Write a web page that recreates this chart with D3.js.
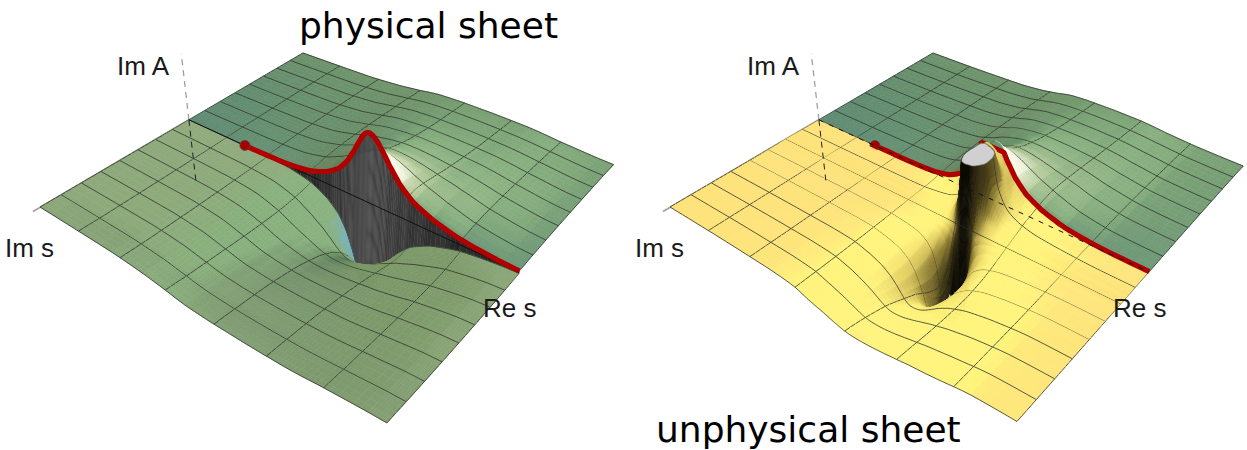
<!DOCTYPE html>
<html><head><meta charset="utf-8">
<script src="https://cdnjs.cloudflare.com/ajax/libs/d3/7.8.5/d3.min.js"></script>
<style>html,body{margin:0;padding:0;background:#fff}svg{display:block}</style>
</head><body><svg id="c" width="1247" height="450"></svg>
<script>
// ---- values ----
const titles = ["physical sheet", "unphysical sheet"];
const axisLabels = ["Im A", "Im s", "Re s"];
// distance from the resonance along Re s (columns of both tables)
const reOffsets = [0, .012, .025, .04, .06, .085, .12, .17, .24, .34, .62];
// far half, Im s > 0 (rows)
const imFar = [0, .03, .07, .125, .2, .3, .45, .65, .85, 1];
const heightFar = [
 [69.1,66,57.3,45.2,31.5,20.4,12,5.3,1.7,.4,0],
 [57.8,55.9,50.5,42.2,31.5,21.7,13.3,6.1,2,.5,0],
 [47.4,46.4,43.2,38,30.4,22.4,14.6,7,2.4,.6,0],
 [38,37.5,35.8,32.8,27.9,22.1,15.6,8,2.8,.8,0],
 [29.9,29.7,28.8,27.2,24.5,20.7,15.8,8.8,3.3,.9,0],
 [23.3,23.2,22.8,22,20.5,18.3,15.1,9.2,3.7,1.1,0],
 [17.5,17.5,17.3,16.9,16.3,15.2,13.4,9,4,1.3,0],
 [13,13,13,12.9,12.6,12,11,8,4,1.4,0],
 [10.5,10.5,10.5,10.4,10.2,9.8,9,6.8,3.6,1.4,0],
 [9,9,9,9,8.8,8.5,7.8,5.5,3,1,0]];
// near half of the unphysical sheet, Im s < 0 (rows)
const imNear = [0,-.05,-.1,-.14,-.17,-.19,-.21,-.23,-.25,-.27,-.3,-.35,-.42,-.55,-.75,-1];
const heightNear = [
 [69.1,66,57.3,45.2,31.5,20.4,12,5.3,1.7,.4,0],
 [58,56,50,40,25.7,15.6,8.7,4,1.5,.4,0],
 [90,82,62,36,21,12,6.3,3.3,1,.3,0],
 [118,100,74,36,16.5,8.9,4.6,2.3,.7,.2,0],
 [120,112,78,34,12.8,6.7,3.4,1.7,.5,.1,0],
 [120,118,74,28,10,5.1,2.6,1.3,.4,.1,0],
 [120,113,58,18,6.8,3.4,1.7,.9,.2,0,0],
 [120,85,28,9,3.5,1.7,.9,.4,.1,0,0],
 [0,0,0,0,0,0,0,0,0,0,0],
 [-120,-82,-20.8,-8.2,-3.7,-1.9,-.9,-.5,-.1,0,0],
 [-120,-120,-45,-19.4,-9,-4.6,-2.3,-1.2,-.4,-.1,0],
 [-120,-106,-60,-32,-16.4,-8.7,-4.5,-2.3,-.7,-.2,0],
 [-81,-73.6,-56,-37.9,-22.7,-13.2,-7.2,-3.8,-1.2,-.3,0],
 [-46,-44.6,-40.3,-33.7,-25.2,-17.4,-10.7,-6,-1.9,-.6,0],
 [-27.6,-27.3,-26.3,-24.4,-21.3,-17.3,-12.6,-7.5,-2.9,-1,0],
 [-18.4,-18.3,-18,-17.4,-16.3,-14.6,-12,-8.9,-3.5,-1.2,0]];
const reGridLines = [0,1/7,2/7,3/7,4/7,5/7,6/7,1];
const imGridLines = [0,1,2,3,4,5,6,7,8].map(k=>k/8);
const thresholdRe = .2077;
const poleHeightCut = 62, poleDepthCut = -75, nearMirror = 1.22, ridgeCut = 52, poleShift = .018;
const imAxisRange = [66,-62];
const curtainStripes = [0,5,9,4,-3,-7,-4,2,7,3,-2,-6];

// ---- projection ----
const svg = d3.select("#c");
const corners = [[40,207],[387,420],[613,167],[303,53]];
const sU = d3.scaleLinear().domain([0,1]).range([0,1]);
const sV = d3.scaleLinear().domain([-1,1]).range([0,1]);
const sH = d3.scaleLinear().domain([0,1]).range([0,1]);
const H = (()=>{const [[x0,y0],[x1,y1],[x2,y2],[x3,y3]]=corners;
 const dx1=x1-x2,dx2=x3-x2,sx=x0-x1+x2-x3,dy1=y1-y2,dy2=y3-y2,sy=y0-y1+y2-y3;
 const den=dx1*dy2-dx2*dy1,g=(sx*dy2-dx2*sy)/den,h=(dx1*sy-sx*dy1)/den;
 return {a:x1-x0+g*x1,b:x3-x0+h*x3,c:x0,d:y1-y0+g*y1,e:y3-y0+h*y3,f:y0,g,h};})();
function proj(u,v,z,dx){const s=sU(u),t=sV(v),w=H.g*s+H.h*t+1;
 const x=(H.a*s+H.b*t+H.c)/w,y=(H.d*s+H.e*t+H.f)/w,hh=sH(z);
 return [x+hh*(x-330)/1230+dx,y-hh];}

// ---- table lookup ----
const colIdx=d3.scaleLinear().domain(reOffsets).range(reOffsets.map((_,i)=>i)).clamp(true);
function cr(a,b,c,d,t){return .5*(2*b+(c-a)*t+(2*a-5*b+4*c-d)*t*t+(3*b-a-3*c+d)*t*t*t);}
function lookup(rows,table){
 const rowIdx=d3.scaleLinear().domain(rows).range(rows.map((_,i)=>i)).clamp(true);
 const nr=rows.length-1,nc=reOffsets.length-1;
 const at=(r,c)=>table[Math.max(0,Math.min(nr,r))][Math.min(nc,Math.abs(c))];
 return (d,v)=>{const ci=colIdx(d),ri=rowIdx(v),c=Math.min(nc-1,Math.floor(ci)),r=Math.min(nr-1,Math.floor(ri)),tc=ci-c,tr=ri-r;
  const p=[-1,0,1,2].map(k=>cr(at(r+k,c-1),at(r+k,c),at(r+k,c+1),at(r+k,c+2),tc));
  return cr(p[0],p[1],p[2],p[3],tr);};
}
const farT=lookup(imFar,heightFar), nearT=lookup(imNear,heightNear);
const sub=(nodes,n)=>{const o=[];nodes.forEach((a,i)=>{if(i<nodes.length-1)for(let k=0;k<n;k++)o.push(a+(nodes[i+1]-a)*k/n);});o.push(nodes[nodes.length-1]);return o;};

const mix=(a,b,t)=>d3.interpolateRgb(a,b)(t), cl=x=>Math.max(0,Math.min(1,x));
// ---- shading ----
const farBase=d3.scaleLinear().domain([0,.5,1]).range(["#5c8972","#6a9470","#6c9776"]);
const farLight=d3.scaleLinear().domain([0,.12,.45,.9,1.6]).range([0,.3,.55,.9,1]).clamp(true);
function shadeFar(u,v,su,sv){const a=-su*.75-sv*.85;let c=farBase(u);
 c=mix(c,"#7a9a66",cl(v*.55*(1-u*.2)));
 if(a>0){const t=farLight(a);c=t<.3?mix(c,"#86ae7e",t/.3):t<.6?mix("#86ae7e","#b8cd9e",(t-.3)/.3):mix("#b8cd9e","#fffff0",(t-.6)/.4);}
 else c=mix(c,"#65805a",cl(-a*1.6));
 return c;}
function shadeNearGreen(u,v,su,sv){let c="#8ea97b";const a=-su,b=-sv;
 c=mix(c,"#88b07d",cl(a*4));
 c=mix(c,"#7bb0b8",cl((a-.9)*.9));
 c=mix(c,"#557657",cl(Math.sqrt(Math.max(b,0))*1.15-Math.max(a,0)*1.2));
 c=mix(c,"#7c9868",cl(su*4));
 return c;}
const yellowScale=d3.scaleLinear().domain([0,.15,.6,1.4,3.5,9,28]).range(["#fee27a","#fff47c","#fff27a","#e3cf62","#8f7e34","#3d3514","#0c0a03"]).clamp(true);
function shadeYellow(u,v,su,sv){return yellowScale(Math.hypot(su,sv));}

// ---- surface painter ----
const lineColor="#2f352c";
function grid(g,o){
 const {us,vs,h,shade,dx,cutTop,cutBot}=o;
 const Z=vs.map(v=>us.map(u=>h(u,v)));
 const clampZ=(z,v)=>{if(cutTop!==undefined&&v<-.03&&z>cutTop)return cutTop;if(cutBot!==undefined&&z<cutBot)return cutBot;return z;};
 const line=d3.line();
 for(let j=0;j<vs.length-1;j++){
  const v0=vs[j],v1=vs[j+1],dv=v1-v0;
  if(o.before&&v1<=o.before.at&&v0>o.before.at){o.before.fn();o.before=null;}
  us.slice(0,-1).forEach((u,i)=>{
   const u1=us[i+1],z00=Z[j][i],z10=Z[j][i+1],z01=Z[j+1][i],z11=Z[j+1][i+1];
   const su=((z10+z11)-(z00+z01))/2/((u1-u)*330),sv=((z01+z11)-(z00+z10))/2/(dv*186);
   const q=[[u,v0,z00],[u1,v0,z10],[u1,v1,z11],[u,v1,z01]].map(p=>proj(p[0],p[1],clampZ(p[2],p[1]),dx));
   let col=shade((u+u1)/2,(v0+v1)/2,su,sv);
   const zm=(z00+z10+z01+z11)/4;
   if(cutBot!==undefined&&zm<=cutBot)col="#ffffff";
   g.append("path").attr("d",line(q)+"Z").attr("fill",col).attr("stroke",col).attr("stroke-width",.6);
  });
  // lines of constant Re s crossing this band
  reGridLines.forEach(ur=>{
   const a=h(ur,v0),b=h(ur,v1);
   if(cutTop!==undefined&&Math.min(a,b)>=cutTop&&v1<-.03)return;
   g.append("path").attr("d",line([proj(ur,v0,clampZ(a,v0),dx),proj(ur,v1,clampZ(b,v1),dx)]))
    .attr("fill","none").attr("stroke",lineColor).attr("stroke-width",.9).attr("stroke-opacity",.9);
  });
  drawIm(g,o,v0,clampZ);
 }
 drawIm(g,o,vs[vs.length-1],clampZ);
 if(o.before){o.before.fn();}
 if(cutTop!==undefined){
  // flat top where the pole is cut off
  const hiEdge=[],loEdge=[];
  us.forEach((u,i)=>{const js=vs.map((v,j)=>j).filter(j=>vs[j]<-.03&&Z[j][i]>=cutTop);
   if(js.length){hiEdge.push(proj(u,vs[js[0]],cutTop,dx));loEdge.unshift(proj(u,vs[js[js.length-1]],cutTop,dx));}});
  g.append("path").attr("d",d3.line().curve(d3.curveCatmullRomClosed)(hiEdge.concat(loEdge))).attr("fill","#d0d0d0").attr("stroke","#666").attr("stroke-width",.7);
 }
}
function drawIm(g,o,v,clampZ){
 const hit=o.lines.find(l=>Math.abs(l-v)<1e-6);if(hit===undefined)return;
 const pts=o.us.map(u=>[u,o.h(u,v)]);
 let seg=[];const flush=()=>{if(seg.length>1)g.append("path").attr("d",d3.line()(seg)).attr("fill","none").attr("stroke",lineColor).attr("stroke-width",.9).attr("stroke-opacity",.9);seg=[];};
 pts.forEach(([u,z])=>{if(o.cutTop!==undefined&&v<-.03&&z>=o.cutTop){flush();return;}seg.push(proj(u,v,clampZ(z,v),o.dx));});flush();
}
function merged(a,b){return Array.from(new Set(a.concat(b).map(x=>+x.toFixed(6)))).sort((p,q)=>p-q);}

// ---- panels ----
function panel(cfg){
 const g=svg.append("g"),dx=cfg.dx;
 const dist=(u,c)=>u<c?(c-u)/cfg.sL:(u-c)/cfg.sR;
 const far=(u,v)=>Math.min(farT(dist(u,cfg.u0),v),cfg.ridge);
 const nodes=merged(reOffsets.map(d=>cfg.u0-d*cfg.sL).filter(u=>u>0),reOffsets.map(d=>cfg.u0+d*cfg.sR).filter(u=>u<1));
 const us=merged(sub([0].concat(nodes,[1]),6),reGridLines.concat([thresholdRe]));
 // Im A axis, upper (grey) part
 const E0=proj(0,0,0,dx),top=proj(0,0,imAxisRange[0],dx),bot=proj(0,0,imAxisRange[1],dx);
 g.append("line").attr("x1",E0[0]).attr("y1",E0[1]).attr("x2",top[0]).attr("y2",top[1]).attr("stroke","#a0a0a0").attr("stroke-width",1.3).attr("stroke-dasharray","6 5");
 // Im s axis stub
 const A=proj(0,-1,0,dx);
 g.append("line").attr("x1",A[0]-7).attr("y1",A[1]+4.5).attr("x2",E0[0]).attr("y2",E0[1]).attr("stroke","#a5a5a5").attr("stroke-width",2);
 const vf=merged(sub(imFar,5),imGridLines).reverse();
 grid(g,{us,vs:vf,h:far,shade:shadeFar,dx,lines:imGridLines});
 const axisLine=d3.line();
 const redPts=us.filter(u=>u>=thresholdRe).map(u=>proj(u,0,far(u,0),dx));
 const red=()=>{
  g.append("path").attr("d",d3.line().curve(d3.curveCatmullRom)(redPts)).attr("fill","none").attr("stroke","#b00000").attr("stroke-width",5.2);
  const s=redPts[0];
  g.append("circle").attr("cx",s[0]).attr("cy",s[1]).attr("r",5).attr("fill","#a80000").attr("stroke","#5a4040").attr("stroke-width",.8);
 };
 const E1=proj(1,0,0,dx);
 if(cfg.kind==="physical"){
  const near=(u,v)=>-nearMirror*farT(dist(u,cfg.u0),-v);
  // curtain between the two lips of the cut
  const cu=us.filter(u=>u>=thresholdRe-.02);
  const grey=d3.scaleLinear().domain([0,.06,.15,.3]).range([74,60,44,34]).clamp(true);
  cu.slice(0,-1).forEach((u,i)=>{const u1=cu[i+1],um=(u+u1)/2,d=dist(um,cfg.u0);
   const q=[proj(u,0,far(u,0),dx),proj(u1,0,far(u1,0),dx),proj(u1,0,near(u1,-0),dx),proj(u,0,near(u,-0),dx)];
   const base=grey(d)+curtainStripes[i%curtainStripes.length]*.7;
   const col=d3.rgb(base,base,base)+"";
   g.append("path").attr("d",axisLine(q)+"Z").attr("fill",col).attr("stroke",col).attr("stroke-width",.5);
  });
  const vn=merged(sub(imFar,5),imGridLines).map(v=>-v).sort((a,b)=>b-a);
  grid(g,{us,vs:vn,h:near,shade:shadeNearGreen,dx,lines:imGridLines.map(v=>-v)});
  g.append("line").attr("x1",E0[0]).attr("y1",E0[1]).attr("x2",E1[0]).attr("y2",E1[1]).attr("stroke","#111").attr("stroke-width",1);
  red();
 } else {
  const near=(u,v)=>{const c=cfg.u0+poleShift*Math.min(1,-v/.1),z=nearT(dist(u,c),v);return v>-.03?Math.min(z,cfg.ridge):z;};
  const vn=merged(sub(imNear.slice().reverse(),8),imGridLines.map(v=>-v)).reverse();
  grid(g,{us,vs:vn,h:near,shade:shadeYellow,dx,lines:imGridLines.map(v=>-v),cutTop:poleHeightCut,cutBot:poleDepthCut,before:{at:-.03,fn:red}});
  g.append("line").attr("x1",E0[0]).attr("y1",E0[1]).attr("x2",E1[0]).attr("y2",E1[1]).attr("stroke","#111").attr("stroke-width",1).attr("stroke-dasharray","5 6");
 }
 g.append("line").attr("x1",E0[0]).attr("y1",E0[1]).attr("x2",bot[0]).attr("y2",bot[1]).attr("stroke","#222").attr("stroke-width",1).attr("stroke-dasharray","6 5");
 const lab=(t,x,y)=>g.append("text").attr("x",x+dx).attr("y",y).attr("font-family","'Liberation Sans',Arial,sans-serif").attr("font-size",26).attr("fill","#1a1a1a").text(t);
 lab(axisLabels[0],117,75);lab(axisLabels[1],5,257);lab(axisLabels[2],483,317);
}
panel({dx:0,u0:.6,sL:1,sR:1.5,ridge:1e3,kind:"physical"});
panel({dx:630,u0:.575,sL:.7,sR:1.25,ridge:ridgeCut,kind:"unphysical"});
const ttl=(t,x,y)=>svg.append("text").attr("x",x).attr("y",y).attr("font-family","'DejaVu Sans',Verdana,sans-serif").attr("font-size",36).attr("fill","#000").text(t);
ttl(titles[0],299,38);ttl(titles[1],656,442);
</script></body></html>
